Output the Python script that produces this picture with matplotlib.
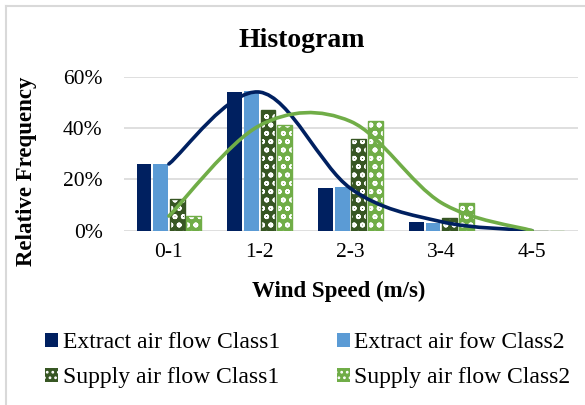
import numpy as np
import matplotlib
matplotlib.use("Agg")
import matplotlib.pyplot as plt
from matplotlib.path import Path
from matplotlib.patches import PathPatch, Patch
from matplotlib.lines import Line2D

# data (relative frequency, %)
categories = ['0-1', '1-2', '2-3', '3-4', '4-5']
extract_c1 = [26, 54, 16.5, 3.5, 0]
extract_c2 = [26, 54.5, 17, 3, 0]
supply_c1 = [12.3, 47, 35.7, 5, 0]
supply_c2 = [5.7, 41, 42.6, 10.9, 0]
yticks = [0, 20, 40, 60]

labels = ['Extract air flow Class1', 'Extract air fow Class2',
          'Supply air flow Class1', 'Supply air flow Class2']
colors = ['#002060', '#5B9BD5', '#375623', '#70AD47']

plt.rcParams['font.family'] = ['Liberation Serif', 'DejaVu Serif']
plt.rcParams['hatch.linewidth'] = 1.2


def smooth_path(xs, ys):
    # Excel-like smoothed line: cubic bezier segments through the points
    pts = np.column_stack([xs, ys]).astype(float)
    n = len(pts)
    verts = [pts[0]]
    codes = [Path.MOVETO]
    for i in range(n - 1):
        p0 = pts[max(i - 1, 0)]
        p1 = pts[i]
        p2 = pts[i + 1]
        p3 = pts[min(i + 2, n - 1)]
        c1 = p1 + (p2 - p0) / 6.0
        c2 = p2 - (p3 - p1) / 6.0
        verts += [c1, c2, p2]
        codes += [Path.CURVE4] * 3
    return Path(verts, codes)


fig = plt.figure(figsize=(5.85, 4.05), dpi=100)
ax = fig.add_axes([123.5 / 585, 1 - 230.7 / 405, 454 / 585, 154 / 405])

x = np.arange(len(categories))
w = 0.162
pitch = 0.183
series = [extract_c1, extract_c2, supply_c1, supply_c2]
hatches = [None, None, 'oo', 'oo']
handles = []
for i, (vals, col, h, lab) in enumerate(zip(series, colors, hatches, labels)):
    pos = x + (i - 1.5) * pitch
    if h is None:
        ax.bar(pos, vals, width=w, color=col, linewidth=0, zorder=2)
        handles.append(Patch(facecolor=col, linewidth=0, label=lab))
    else:
        ax.bar(pos, vals, width=w, facecolor=col, edgecolor='white',
               hatch=h, linewidth=0, zorder=2)
        ax.bar(pos, vals, width=w, fill=False, edgecolor=col,
               linewidth=1, zorder=2)
        handles.append(Patch(facecolor=col, edgecolor='white', hatch='...',
                             linewidth=0, label=lab))

# smoothed curves
ax.add_patch(PathPatch(smooth_path(x, extract_c1), facecolor='none',
                       edgecolor='#002060', lw=2.6, zorder=3,
                       capstyle='round'))
ax.add_patch(PathPatch(smooth_path(x, supply_c2), facecolor='none',
                       edgecolor='#70AD47', lw=2.6, zorder=3,
                       capstyle='round'))

ax.set_xlim(-0.5, 4.5)
ax.set_ylim(0, 60)
ax.set_yticks(yticks)
ax.set_yticklabels([f'{v}%' for v in yticks])
ax.set_xticks(x)
ax.set_xticklabels(categories)
ax.tick_params(axis='both', length=0, labelsize=15.5)
ax.tick_params(axis='y', pad=15)
ax.tick_params(axis='x', pad=9)
for s in ax.spines.values():
    s.set_visible(False)
ax.yaxis.grid(True, color='#D9D9D9', lw=1.2)
ax.set_axisbelow(True)

fig.text(301.5 / 585, 1 - 46.7 / 405, 'Histogram', fontsize=20,
         fontweight='bold', ha='center', va='baseline')
fig.text(339 / 585, 1 - 296.5 / 405, 'Wind Speed (m/s)', fontsize=16.5,
         fontweight='bold', ha='center', va='baseline')
fig.text(27 / 585, 1 - 171 / 405, 'Relative Frequency', fontsize=16.5,
         fontweight='bold', ha='center', va='center', rotation=90)

order = [0, 2, 1, 3]
fig.legend([handles[i] for i in order], [labels[i] for i in order],
           loc='upper left', bbox_to_anchor=(45 / 585, 1 - 332 / 405),
           ncol=2, frameon=False, fontsize=17, handlelength=0.55,
           handleheight=0.55, handletextpad=0.2, columnspacing=2.4,
           labelspacing=0.6, borderpad=0, borderaxespad=0)

# chart area border
fig.add_artist(Line2D([6 / 585, 6 / 585], [0, 1 - 6 / 405],
                      transform=fig.transFigure, color='#D9D9D9', lw=1.5))
fig.add_artist(Line2D([6 / 585, 1], [1 - 6 / 405, 1 - 6 / 405],
                      transform=fig.transFigure, color='#D9D9D9', lw=1.5))

fig.savefig('out.png', dpi=100)
